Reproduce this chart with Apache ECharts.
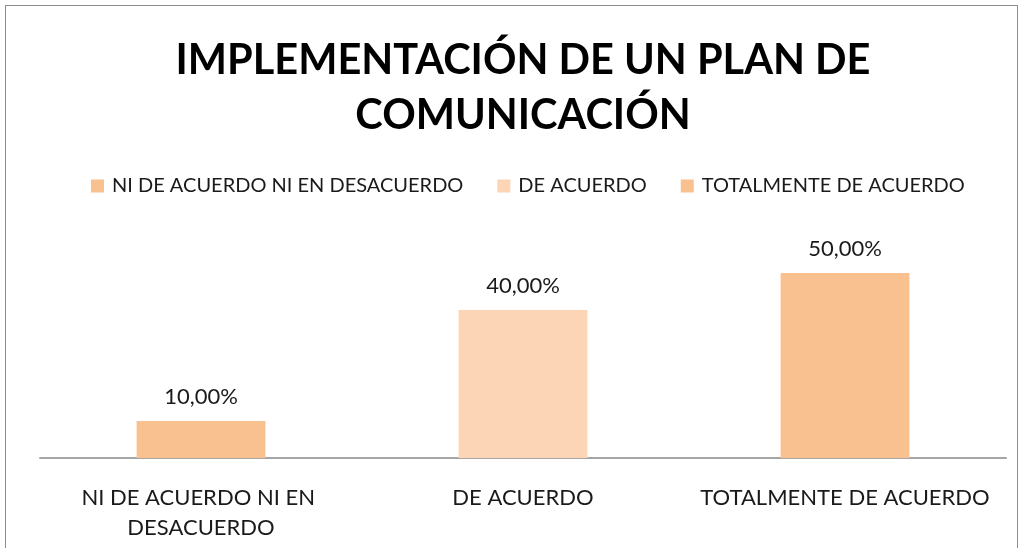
<!DOCTYPE html>
<html>
<head>
<meta charset="utf-8">
<script src="https://cdn.jsdelivr.net/npm/echarts@6/dist/echarts.min.js"></script>
<style>
  html, body { margin: 0; padding: 0; background: #fff; }
  #chart { width: 1022px; height: 548px; }
  .frame {
    position: absolute; left: 5px; top: 5px; width: 1011px; height: 600px;
    border: 1px solid #8c8c8c; pointer-events: none;
  }
</style>
</head>
<body>
<div id="chart"></div>
<div class="frame"></div>
<script>
const categories = ['NI DE ACUERDO NI EN DESACUERDO', 'DE ACUERDO', 'TOTALMENTE DE ACUERDO']
const values = [0.10, 0.40, 0.50]
const colors = ['#F9C18F', '#FBD5B5', '#F9C18F']

const font = 'Lato, "Open Sans", sans-serif'

const chart = echarts.init(document.getElementById('chart'))

// one series per category so the legend lists the categories
const series = categories.map((name, i) => ({
  name: name,
  type: 'bar',
  stack: 'one',
  barWidth: '40%',
  itemStyle: { color: colors[i] },
  label: {
    show: true,
    position: 'top',
    distance: 13,
    color: '#1a1a1a',
    fontFamily: font,
    fontSize: 22,
    formatter: p => (p.value * 100).toFixed(2).replace('.', ',') + '%'
  },
  data: values.map((v, j) => (j === i ? v : '-'))
}))

chart.setOption({
  animation: false,
  title: {
    text: 'IMPLEMENTACIÓN DE UN PLAN DE\nCOMUNICACIÓN',
    left: 518,
    textAlign: 'center',
    top: 28,
    textStyle: {
      fontFamily: font,
      fontWeight: 'bold',
      fontSize: 41.5,
      lineHeight: 55,
      color: '#000'
    }
  },
  legend: {
    top: 171,
    left: 86,
    itemWidth: 13,
    itemHeight: 13,
    itemGap: 34,
    icon: 'rect',
    textStyle: { fontFamily: font, fontSize: 20, color: '#1a1a1a', padding: [0, 0, 0, 3] },
    data: categories
  },
  grid: { left: 40, right: 16, top: 236, bottom: 90 },
  xAxis: {
    type: 'category',
    data: categories,
    axisLine: { lineStyle: { color: '#a6a6a6', width: 2 } },
    axisTick: { show: false },
    axisLabel: {
      interval: 0,
      margin: 25,
      width: 310,
      overflow: 'break',
      lineHeight: 30,
      fontFamily: font,
      fontSize: 22,
      color: '#1a1a1a'
    }
  },
  yAxis: {
    type: 'value',
    min: 0,
    max: 0.6,
    show: false,
    splitLine: { show: false }
  },
  series: series
})
</script>
</body>
</html>
